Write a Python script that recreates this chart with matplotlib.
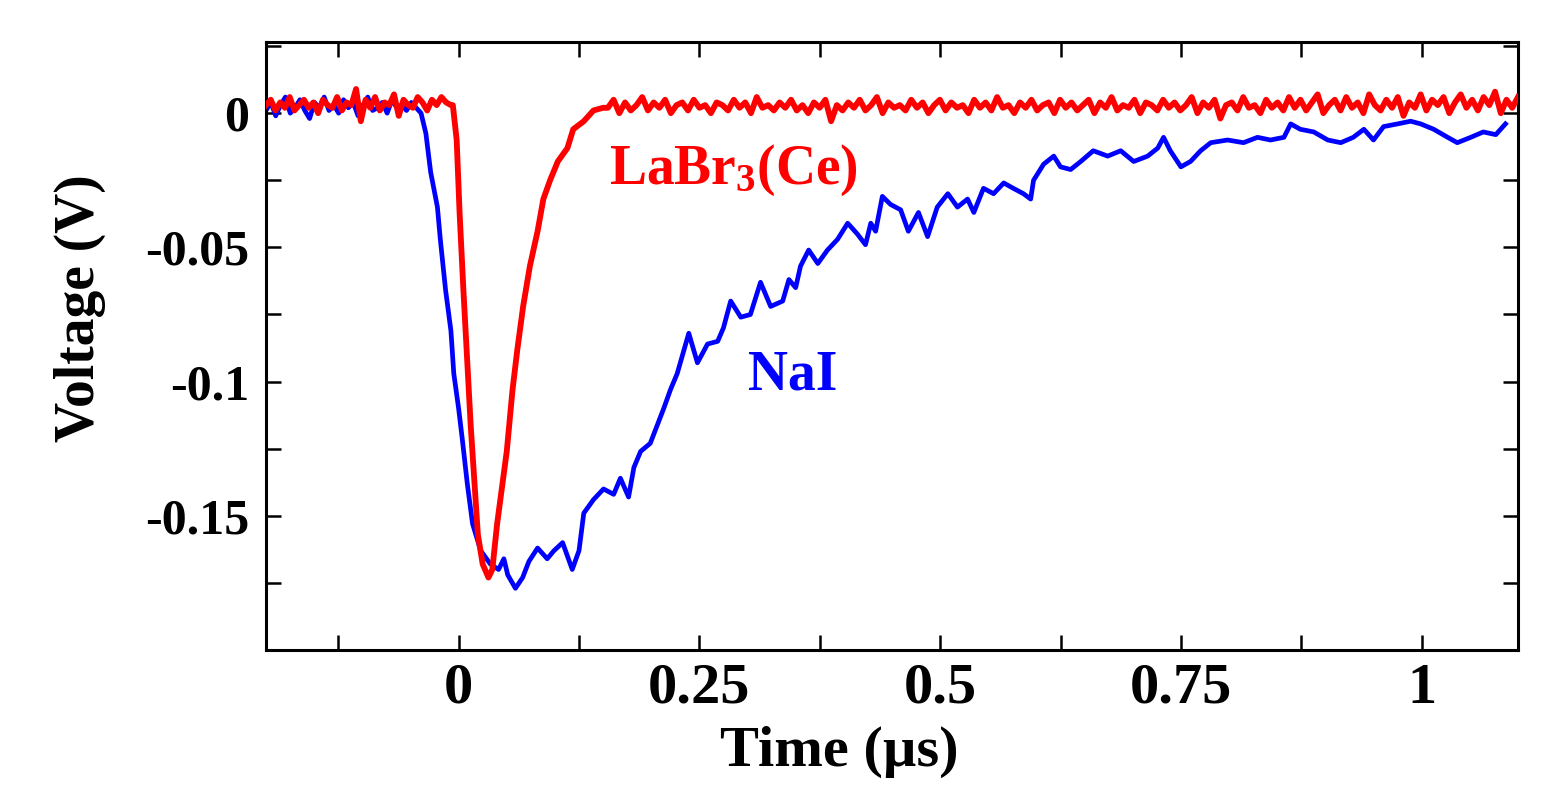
import numpy as np
import matplotlib
matplotlib.use("Agg")
import matplotlib.pyplot as plt
from matplotlib.ticker import FixedLocator, FixedFormatter

# ---------------- data (time in microseconds, voltage in mV) ----------------
# LaBr3(Ce) trace
labr_pre_t = (-0.2, -0.008)            # uniformly sampled pre-trigger baseline
labr_pre_mv = [3, 5, 1, 4, 2, 6, 1, 3, 5, 2, 4, 0, 5, 3, 2, 6, 1, 4, 3, 9,
               -3, 5, 2, 6, 1, 4, 3, 7, -1, 5, 3, 2, 6, 4, 1, 5, 3, 6, 4, 3]
labr_pulse_t = [-0.006, -0.002, 0.001, 0.005, 0.0125, 0.020, 0.025, 0.031, 0.035,
                0.040, 0.050, 0.056, 0.061, 0.067, 0.074, 0.082, 0.088, 0.095,
                0.103, 0.113, 0.119, 0.130, 0.140, 0.150]
labr_pulse_mv = [3, -10, -37, -66, -116, -157, -168, -173, -170,
                 -153, -126, -103, -88, -72, -57, -44, -32, -25,
                 -18, -13, -6, -3, 1, 2]
labr_post_t = (0.155, 1.1)             # uniformly sampled post-pulse baseline
labr_post_mv = [2, 5, 0, 4, 1, 3, 6, 1, 4, 2, 5, 0, 3, 4, 1, 5, 2, 3, 0, 4,
                3, 1, 5, 2, 4, 0, 6, 2, 3, 1, 4, 2, 5, 1, 3, 0, 4, 2, 5, -3,
                3, 1, 4, 2, 5, 1, 3, 6, 0, 4, 2, 3, 1, 5, 2, 4, 0, 3, 5, 1,
                4, 2, 3, 0, 5, 2, 4, 1, 6, 2, 3, 0, 4, 2, 5, 1, 3, 4, 0, 5,
                2, 4, 1, 3, 5, 0, 4, 2, 6, 1, 3, 2, 5, 0, 4, 3, 1, 5, 2, 4,
                1, 3, 6, 0, 4, 2, 5, -2, 3, 4, 1, 6, 2, 3, 0, 5, 2, 4, 1, 6,
                2, 5, 1, 4, 7, 0, 3, 5, 1, 6, 2, 4, 0, 7, 3, 1, 5, 2, 6, -1,
                4, 2, 7, 1, 5, 3, 6, 0, 4, 7, 2, 5, 1, 6, 3, 8, 0, 5, 2, 6]

# NaI trace
nai_pre_t = (-0.2, -0.044)
nai_pre_mv = [1, 4, -1, 3, 6, 0, 2, 5, 1, -2, 4, 2, 6, 1, 3, 0, 5, 2, 4, -1,
              3, 6, 1, 2, 4, 0, 5, 2, 3, 1, 4, 2]
nai_t = [-0.039, -0.034, -0.029, -0.022, -0.019, -0.0135, -0.008, -0.005, 0.000,
         0.004, 0.009, 0.0145, 0.023, 0.033, 0.0415, 0.047, 0.051, 0.059, 0.0665,
         0.073, 0.082, 0.092, 0.099, 0.108, 0.118, 0.125, 0.130, 0.140, 0.1505,
         0.161, 0.168, 0.1765, 0.182, 0.189, 0.199, 0.2065, 0.213, 0.220, 0.227,
         0.239, 0.248, 0.2585, 0.269, 0.275, 0.2825, 0.293, 0.303, 0.3135, 0.324,
         0.3365, 0.343, 0.350, 0.355, 0.3635, 0.373, 0.383, 0.3935, 0.404, 0.414,
         0.4225, 0.428, 0.433, 0.440, 0.4485, 0.459, 0.467, 0.4775, 0.487, 0.497,
         0.508, 0.518, 0.5285, 0.535, 0.545, 0.5555, 0.566, 0.576, 0.5865, 0.594,
         0.597, 0.6075, 0.618, 0.625, 0.6355, 0.646, 0.659, 0.674, 0.6875, 0.701,
         0.7155, 0.726, 0.732, 0.739, 0.750, 0.760, 0.7705, 0.781, 0.7985, 0.815,
         0.8295, 0.843, 0.857, 0.864, 0.874, 0.888, 0.9025, 0.916, 0.929, 0.940,
         0.950, 0.9605, 0.975, 0.9885, 0.999, 1.0125, 1.027, 1.037, 1.051, 1.064,
         1.077, 1.087]
nai_mv = [0, -7.5, -22, -35, -47, -66, -81, -97, -110,
          -122, -138, -153, -163, -168, -170, -166, -172, -177, -173,
          -167, -162, -166, -163, -160, -170, -163, -149, -144, -140,
          -142, -136, -143, -132, -126, -123, -116, -110, -103, -97,
          -82, -93, -86, -85, -80, -70, -76, -75, -63, -72,
          -70, -62, -65, -57, -51, -56, -51, -47, -41, -45,
          -49, -41, -44, -31, -34, -36, -44, -37, -46, -35,
          -30, -35, -32, -37, -28, -30, -26, -28, -30, -32,
          -25, -19, -16, -20, -21, -18, -14, -16, -14, -18,
          -16, -13, -9, -14, -20, -18, -14, -11, -10, -11,
          -9, -10, -9, -4, -6, -7, -10, -11, -9, -6,
          -10, -5, -4, -3, -4, -6, -9, -11, -9, -7,
          -8, -4]

x_tick_vals = [0, 0.25, 0.5, 0.75, 1]
x_tick_labels = ["0", "0.25", "0.5", "0.75", "1"]
x_minor_vals = [-0.125, 0.125, 0.375, 0.625, 0.875]
y_tick_vals = [0, -0.05, -0.1, -0.15]
y_tick_labels = ["0", "-0.05", "-0.1", "-0.15"]
y_minor_vals = [0.025, -0.025, -0.075, -0.125, -0.175]

# ---------------- assemble traces ----------------
labr_t = np.concatenate([np.linspace(*labr_pre_t, len(labr_pre_mv)),
                         labr_pulse_t,
                         np.linspace(*labr_post_t, len(labr_post_mv))])
labr_v = np.concatenate([labr_pre_mv, labr_pulse_mv, labr_post_mv]) / 1000.0

nai_tt = np.concatenate([np.linspace(*nai_pre_t, len(nai_pre_mv)), nai_t])
nai_v = np.concatenate([nai_pre_mv, nai_mv]) / 1000.0

# ---------------- plot ----------------
plt.rcParams['font.family'] = ['Liberation Serif', 'DejaVu Serif']
plt.rcParams['font.weight'] = 'bold'
plt.rcParams['mathtext.fontset'] = 'custom'
plt.rcParams['mathtext.rm'] = 'Liberation Serif:bold'
plt.rcParams['mathtext.it'] = 'Liberation Serif:bold'
plt.rcParams['mathtext.bf'] = 'Liberation Serif:bold'

fig = plt.figure(figsize=(15.51, 7.93), dpi=100)
ax = fig.add_axes([0.1715, 0.1803, 0.8072, 0.7667])

ax.plot(nai_tt, nai_v, color='#0000ff', lw=3.4, zorder=2)
ax.plot(labr_t, labr_v, color='#ff0000', lw=4.2, zorder=3)

ax.set_xlim(-0.2, 1.1)
ax.set_ylim(-0.2, 0.0265)

ax.xaxis.set_major_locator(FixedLocator(x_tick_vals))
ax.xaxis.set_major_formatter(FixedFormatter(x_tick_labels))
ax.xaxis.set_minor_locator(FixedLocator(x_minor_vals))
ax.yaxis.set_major_locator(FixedLocator(y_tick_vals))
ax.yaxis.set_major_formatter(FixedFormatter(y_tick_labels))
ax.yaxis.set_minor_locator(FixedLocator(y_minor_vals))

ax.tick_params(which='both', direction='in', length=11, width=1.8,
               top=True, right=True, color='black')
ax.tick_params(axis='x', which='major', labelsize=42, pad=9)
ax.tick_params(axis='y', which='major', labelsize=36, pad=12)
for s in ax.spines.values():
    s.set_linewidth(2.2)

ax.set_xlabel('Time (µs)', fontsize=42, fontweight='bold')
ax.xaxis.set_label_coords(0.458, -0.125)
ax.set_ylabel('Voltage (V)', fontsize=40, fontweight='bold')
ax.yaxis.label.set_va('center')
ax.yaxis.set_label_coords(-0.149, 0.5625)

ax.text(0.156, -0.0265, r'LaBr$_{3}$(Ce)', color='#ff0000', fontsize=40,
        fontweight='bold', ha='left', va='baseline')
ax.text(0.30, -0.103, 'NaI', color='#0000ff', fontsize=40,
        fontweight='bold', ha='left', va='baseline')

fig.savefig('out.png', dpi=100)
